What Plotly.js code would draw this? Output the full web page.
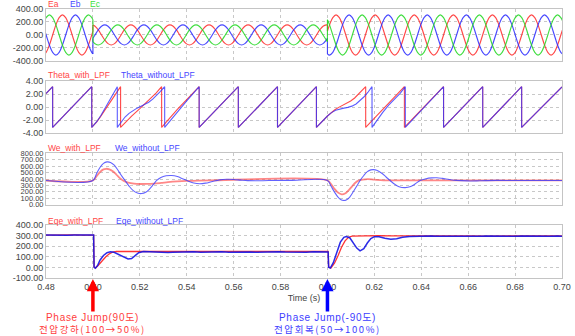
<!DOCTYPE html>
<html>
<head>
<meta charset="utf-8">
<script src="https://cdn.plot.ly/plotly-3.0.1.min.js"></script>
<style>html,body{margin:0;padding:0;background:#fff;}#chart{width:575px;height:336px;}</style>
</head>
<body>
<div id="chart"></div>
<script>
// ---------- Panel 1: three-phase voltages (3 segments: before 0.50, 0.50-0.60, after 0.60) ----------
const vTime1 = [0.47867,0.48006,0.48144,0.48283,0.48422,0.48561,0.48700,0.48839,0.48978,0.49117,0.49256,0.49394,0.49533,0.49672,0.49811,0.49950,0.50000];
const ea1 = [-310,-268,-155,0,155,268,310,268,155,0,-155,-268,-310,-268,-155,0,59];
const eb1 = [155,0,-155,-268,-310,-268,-155,0,155,268,310,268,155,0,-155,-268,-293];
const ec1 = [155,268,310,268,155,0,-155,-268,-310,-268,-155,0,155,268,310,268,234];

const vTime2 = [0.50000,
 0.50089,0.50228,0.50367,0.50506,0.50644,0.50783,0.50922,0.51061,0.51200,0.51339,0.51478,0.51617,
 0.51756,0.51894,0.52033,0.52172,0.52311,0.52450,0.52589,0.52728,0.52867,0.53006,0.53144,0.53283,
 0.53422,0.53561,0.53700,0.53839,0.53978,0.54117,0.54256,0.54394,0.54533,0.54672,0.54811,0.54950,
 0.55089,0.55228,0.55367,0.55506,0.55644,0.55783,0.55922,0.56061,0.56200,0.56339,0.56478,0.56617,
 0.56756,0.56894,0.57033,0.57172,0.57311,0.57450,0.57589,0.57728,0.57867,0.58006,0.58144,0.58283,
 0.58422,0.58561,0.58700,0.58839,0.58978,0.59117,0.59256,0.59394,0.59533,0.59672,0.59811,0.59950,
 0.60000];
const ea2 = [152,
 134,78,0,-78,-134,-155,-134,-78,0,78,134,155,
 134,78,0,-78,-134,-155,-134,-78,0,78,134,155,
 134,78,0,-78,-134,-155,-134,-78,0,78,134,155,
 134,78,0,-78,-134,-155,-134,-78,0,78,134,155,
 134,78,0,-78,-134,-155,-134,-78,0,78,134,155,
 134,78,0,-78,-134,-155,-134,-78,0,78,134,155,
 152];
const eb2 = [-50,
 0,78,134,155,134,78,0,-78,-134,-155,-134,-78,
 0,78,134,155,134,78,0,-78,-134,-155,-134,-78,
 0,78,134,155,134,78,0,-78,-134,-155,-134,-78,
 0,78,134,155,134,78,0,-78,-134,-155,-134,-78,
 0,78,134,155,134,78,0,-78,-134,-155,-134,-78,
 0,78,134,155,134,78,0,-78,-134,-155,-134,-78,
 -51];
const ec2 = [-102,
 -134,-155,-134,-78,0,78,134,155,134,78,0,-78,
 -134,-155,-134,-78,0,78,134,155,134,78,0,-78,
 -134,-155,-134,-78,0,78,134,155,134,78,0,-78,
 -134,-155,-134,-78,0,78,134,155,134,78,0,-78,
 -134,-155,-134,-78,0,78,134,155,134,78,0,-78,
 -134,-155,-134,-78,0,78,134,155,134,78,0,-78,
 -101];

const vTime3 = [0.60000,
 0.60089,0.60228,0.60367,0.60506,0.60644,0.60783,0.60922,0.61061,0.61200,0.61339,0.61478,0.61617,
 0.61756,0.61894,0.62033,0.62172,0.62311,0.62450,0.62589,0.62728,0.62867,0.63006,0.63144,0.63283,
 0.63422,0.63561,0.63700,0.63839,0.63978,0.64117,0.64256,0.64394,0.64533,0.64672,0.64811,0.64950,
 0.65089,0.65228,0.65367,0.65506,0.65644,0.65783,0.65922,0.66061,0.66200,0.66339,0.66478,0.66617,
 0.66756,0.66894,0.67033,0.67172,0.67311,0.67450,0.67589,0.67728,0.67867,0.68006,0.68144,0.68283,
 0.68422,0.68561,0.68700,0.68839,0.68978,0.69117,0.69256,0.69394,0.69533,0.69672,0.69811,0.69950,
 0.70089];
const ea3 = [58,
 155,268,310,268,155,0,-155,-268,-310,-268,-155,0,
 155,268,310,268,155,0,-155,-268,-310,-268,-155,0,
 155,268,310,268,155,0,-155,-268,-310,-268,-155,0,
 155,268,310,268,155,0,-155,-268,-310,-268,-155,0,
 155,268,310,268,155,0,-155,-268,-310,-268,-155,0,
 155,268,310,268,155,0,-155,-268,-310,-268,-155,0,
 155];
const eb3 = [-293,
 -310,-268,-155,0,155,268,310,268,155,0,-155,-268,
 -310,-268,-155,0,155,268,310,268,155,0,-155,-268,
 -310,-268,-155,0,155,268,310,268,155,0,-155,-268,
 -310,-268,-155,0,155,268,310,268,155,0,-155,-268,
 -310,-268,-155,0,155,268,310,268,155,0,-155,-268,
 -310,-268,-155,0,155,268,310,268,155,0,-155,-268,
 -310];
const ec3 = [235,
 155,0,-155,-268,-310,-268,-155,0,155,268,310,268,
 155,0,-155,-268,-310,-268,-155,0,155,268,310,268,
 155,0,-155,-268,-310,-268,-155,0,155,268,310,268,
 155,0,-155,-268,-310,-268,-155,0,155,268,310,268,
 155,0,-155,-268,-310,-268,-155,0,155,268,310,268,
 155,0,-155,-268,-310,-268,-155,0,155,268,310,268,
 155];

// ---------- Panel 2: PLL angle ----------
const thetaTimeNoLpf = [0.4800,0.48283,0.48283,0.4995,0.4995,0.5000,0.5017,0.5034,0.5051,0.50685,0.5086,0.5103,0.5104,0.5104,0.5120,0.5137,0.5154,0.5171,0.5188,0.5205,0.5221,0.5238,0.5255,0.5272,0.5288,0.5304,0.5306,0.5306,0.5320,0.5336,0.5368,0.5400,0.5453,0.5453,0.5620,0.5620,0.5787,0.5787,0.5953,0.5953,0.6000,0.6017,0.6035,0.6052,0.6070,0.6087,0.6104,0.6122,0.6139,0.6155,0.6172,0.6190,0.6190,0.6210,0.6235,0.6260,0.6285,0.6310,0.6332,0.6332,0.6495,0.6495,0.6662,0.6662,0.6828,0.6828,0.7000];
const thetaNoLpf = [2.07,3.14,-3.14,3.14,-3.14,-2.95,-2.22,-1.30,-0.26,0.89,2.05,3.09,3.14,-3.14,-2.28,-1.54,-0.97,-0.52,-0.17,0.14,0.41,0.75,1.21,1.78,2.40,3.07,3.14,-3.14,-2.51,-1.78,-0.35,0.94,3.14,-3.14,3.14,-3.14,3.14,-3.14,3.14,-3.14,-1.38,-0.86,-0.50,-0.30,-0.17,-0.05,0.14,0.47,0.97,1.55,2.25,3.14,-3.14,-2.10,-0.86,0.26,1.20,2.10,3.14,-3.14,3.14,-3.14,3.14,-3.14,3.14,-3.14,3.10];
const thetaTimeLpf = [0.4800,0.48283,0.48283,0.4995,0.4995,0.5000,0.50163,0.50325,0.50488,0.5065,0.50813,0.50975,0.51138,0.5118,0.5118,0.5130,0.5165,0.5200,0.5235,0.5270,0.5293,0.5293,0.5320,0.5360,0.5453,0.5453,0.5620,0.5620,0.5787,0.5787,0.5953,0.5953,0.6000,0.6017,0.6033,0.6050,0.6066,0.6083,0.6099,0.6116,0.6132,0.6163,0.6163,0.6328,0.6328,0.6495,0.6495,0.6662,0.6662,0.6828,0.6828,0.7000];
const thetaLpf = [2.07,3.14,-3.14,3.14,-3.14,-2.95,-2.28,-1.48,-0.60,0.34,1.27,2.16,2.95,3.14,-3.14,-2.65,-1.39,-0.23,0.94,2.20,3.14,-3.14,-2.01,-0.37,3.14,-3.14,3.14,-3.14,3.14,-3.14,3.14,-3.14,-1.38,-0.81,-0.38,-0.01,0.28,0.60,0.94,1.40,1.95,3.14,-3.14,3.14,-3.14,3.14,-3.14,3.14,-3.14,3.14,-3.14,3.10];

// ---------- Panel 3: angular frequency ----------
const weTimeNoLpf = [0.4800,0.5000,0.5015,0.5030,0.5045,0.5060,0.5075,0.5090,0.5105,0.5120,0.5137,0.5155,0.5172,0.5190,0.5208,0.5225,0.5242,0.5258,0.5272,0.5290,0.5312,0.5336,0.5360,0.5385,0.5405,0.5430,0.5455,0.5480,0.5510,0.5540,0.5570,0.5600,0.5630,0.5660,0.5700,0.5750,0.5850,0.6000,0.6015,0.6030,0.6045,0.6058,0.6068,0.6080,0.6095,0.6110,0.6125,0.6139,0.6155,0.6170,0.6185,0.6196,0.6210,0.6230,0.6250,0.6267,0.6285,0.6305,0.6331,0.6355,0.6375,0.6395,0.6420,0.6445,0.6466,0.6490,0.6520,0.6550,0.6600,0.6650,0.6720,0.6800,0.7000];
const weNoLpf = [377,377,480,580,645,668,660,620,548,462,377,285,218,180,172,192,245,315,377,425,450,455,438,400,370,338,325,335,362,386,396,393,383,374,372,376,378,377,290,195,118,75,65,72,118,200,290,377,455,515,543,547,538,495,432,377,322,280,265,282,325,377,405,418,420,410,392,378,370,372,378,376,377];
const weTimeLpf = [0.4800,0.5000,0.5015,0.5030,0.5045,0.5056,0.5070,0.5085,0.5100,0.5115,0.5130,0.5150,0.5175,0.5200,0.5230,0.5260,0.5290,0.5320,0.5360,0.5400,0.5450,0.5500,0.6000,0.6015,0.6030,0.6045,0.6061,0.6075,0.6090,0.6105,0.6120,0.6132,0.6150,0.6172,0.6200,0.6240,0.6300,0.7000];
const weLpf = [377,377,440,508,550,560,552,520,470,415,372,345,328,322,323,328,338,350,362,370,376,378,377,322,245,188,160,172,222,285,345,375,392,398,390,380,377,377];

// ---------- Panel 4: d-q voltage ----------
const eqeTimeNoLpf = [0.4800,0.4830,0.4860,0.4890,0.4920,0.4950,0.4980,0.5003,0.5005,0.5010,0.5020,0.5030,0.5045,0.5060,0.5075,0.5090,0.5110,0.5130,0.5150,0.5165,0.5180,0.5195,0.5215,0.5240,0.5260,0.5280,0.5300,0.5320,0.5340,0.5370,0.5400,0.5430,0.5460,0.5490,0.5520,0.5550,0.5580,0.5610,0.5640,0.5670,0.5700,0.5730,0.5760,0.5790,0.5820,0.5850,0.5880,0.5910,0.5940,0.5970,0.6003,0.6005,0.6012,0.6025,0.6040,0.6055,0.6070,0.6080,0.6095,0.6110,0.6125,0.6139,0.6155,0.6170,0.6185,0.6200,0.6220,0.6245,0.6270,0.6295,0.6320,0.6350,0.6380,0.6410,0.6440,0.6470,0.6500,0.6530,0.6560,0.6590,0.6620,0.6650,0.6680,0.6710,0.6740,0.6770,0.6800,0.6830,0.6860,0.6890,0.6920,0.6950,0.6980,0.7000];
const eqeNoLpf = [306,303,307,304,306,302,305,305,2,-8,18,68,112,138,147,142,120,96,80,84,112,138,150,147,143,140,138,141,144,147,145,148,144,146,143,147,144,146,148,145,143,146,144,147,145,143,146,144,147,145,145,2,-6,45,148,238,284,292,280,232,182,156,176,230,273,290,289,276,266,270,284,292,295,293,296,294,297,294,295,293,296,294,297,295,293,296,294,297,295,293,296,294,297,295];
const eqeTimeLpf = [0.4800,0.4840,0.4880,0.4920,0.4960,0.5003,0.5005,0.5012,0.5025,0.5040,0.5055,0.5070,0.5085,0.5100,0.5120,0.5160,0.5200,0.5250,0.5300,0.5350,0.5400,0.5450,0.5500,0.5550,0.5600,0.5650,0.5700,0.5750,0.5800,0.5850,0.5900,0.5950,0.6003,0.6005,0.6015,0.6030,0.6045,0.6060,0.6075,0.6090,0.6105,0.6130,0.6170,0.6220,0.6270,0.6320,0.6370,0.6420,0.6470,0.6520,0.6570,0.6620,0.6670,0.6720,0.6770,0.6820,0.6870,0.6920,0.6970,0.7000];
const eqeLpf = [305,307,304,306,305,305,3,-5,25,65,100,128,145,151,153,150,152,149,151,150,152,149,151,150,152,149,151,150,152,149,151,150,150,3,-5,40,110,190,250,285,296,298,297,299,297,298,296,298,297,299,297,298,296,298,297,299,297,298,296,297];

// ---------- Tick labels / texts ----------
const xTickVals = [0.48,0.50,0.52,0.54,0.56,0.58,0.60,0.62,0.64,0.66,0.68,0.70];
const xTickText = ['0.48','0.50','0.52','0.54','0.56','0.58','0.60','0.62','0.64','0.66','0.68','0.70'];
const eTickVals = [-400,-200,0,200,400];
const eTickText = ['-400.00','-200.00','0.00','200.00','400.00'];
const thTickVals = [-4,-2,0,2,4];
const thTickText = ['-4.00','-2.00','0.00','2.00','4.00'];
const weTickVals = [0,100,200,300,400,500,600,700,800];
const weTickText = ['0.00','100.00','200.00','300.00','400.00','500.00','600.00','700.00','800.00'];
const eqTickVals = [-100,0,100,200,300,400];
const eqTickText = ['-100.00','0.00','100.00','200.00','300.00','400.00'];
const jumpTimes = [0.50, 0.60];
const jumpLabels = ['Phase Jump(90도)', 'Phase Jump(-90도)'];
const jumpNotes = ['전압강하(100→50%)', '전압회복(50→100%)'];

// ---------- Styles ----------
const RED = 'rgba(255,40,40,0.85)', BLUE = 'rgba(40,40,255,0.85)', GREEN = 'rgba(30,215,30,0.85)';
const traces = [];
function wave(t, v, color) {
  traces.push({x:t, y:v, type:'scatter', mode:'lines', xaxis:'x', yaxis:'y', line:{color:color, width:1.15, shape:'spline', smoothing:1}, hoverinfo:'skip'});
}
function jumps(a1, a2, a3, color) {
  traces.push({x:[vTime1[vTime1.length-1], vTime2[0], null, vTime2[vTime2.length-1], vTime3[0]],
               y:[a1[a1.length-1], a2[0], null, a2[a2.length-1], a3[0]],
               type:'scatter', mode:'lines', xaxis:'x', yaxis:'y', line:{color:color, width:1.15}, hoverinfo:'skip'});
}
[[ea1,ea2,ea3,RED],[eb1,eb2,eb3,BLUE],[ec1,ec2,ec3,GREEN]].forEach(function(p){
  wave(vTime1, p[0], p[3]); wave(vTime2, p[1], p[3]); wave(vTime3, p[2], p[3]); jumps(p[0], p[1], p[2], p[3]);
});
traces.push({x:thetaTimeLpf, y:thetaLpf, type:'scatter', mode:'lines', xaxis:'x2', yaxis:'y2', line:{color:'rgba(255,40,40,0.85)', width:1.1}});
traces.push({x:thetaTimeNoLpf, y:thetaNoLpf, type:'scatter', mode:'lines', xaxis:'x2', yaxis:'y2', line:{color:'rgba(50,50,255,0.8)', width:1.1}});
traces.push({x:weTimeLpf, y:weLpf, type:'scatter', mode:'lines', xaxis:'x3', yaxis:'y3', line:{color:'rgba(255,70,70,0.65)', width:1.8, shape:'spline'}});
traces.push({x:weTimeNoLpf, y:weNoLpf, type:'scatter', mode:'lines', xaxis:'x3', yaxis:'y3', line:{color:'rgba(60,60,255,0.8)', width:1.1, shape:'spline'}});
traces.push({x:eqeTimeLpf, y:eqeLpf, type:'scatter', mode:'lines', xaxis:'x4', yaxis:'y4', line:{color:'rgba(255,30,30,0.9)', width:1.3}});
traces.push({x:eqeTimeNoLpf, y:eqeNoLpf, type:'scatter', mode:'lines', xaxis:'x4', yaxis:'y4', line:{color:'rgba(20,20,230,0.9)', width:1.5}});

const GRID = '#c8c8c8', LINE = '#c4c4c4', TXT = '#444';
function axX(anchor, labels) {
  const a = {anchor:anchor, range:[0.48,0.70], tickvals:xTickVals, ticktext:xTickText, showticklabels:labels,
    showgrid:true, gridcolor:GRID, griddash:'dot', gridwidth:1, zeroline:false, ticks:'',
    showline:true, linecolor:LINE, linewidth:1, mirror:true, tickfont:{size:9, color:TXT}, fixedrange:true};
  if (labels) a.title = {text:'Time (s)', font:{size:9, color:TXT}, standoff:3};
  return a;
}
function axY(anchor, domain, range, vals, text, fsize) {
  return {anchor:anchor, domain:domain, range:range, tickvals:vals, ticktext:text,
    showgrid:true, gridcolor:GRID, griddash:'dot', gridwidth:1, zeroline:false, ticks:'',
    showline:true, linecolor:LINE, linewidth:1, mirror:true, tickfont:{size:fsize, color:TXT}, fixedrange:true};
}
function legendText(txt, x, y, color) {
  return {text:txt, x:x, y:y, xref:'paper', yref:'paper', xanchor:'left', yanchor:'middle', showarrow:false,
          font:{size:8.5, color:color}};
}
const LR = 'rgb(255,70,70)', LB = 'rgb(70,70,255)', LG = 'rgb(60,225,60)';
const KFONT = 'Noto Sans CJK KR, Liberation Sans, sans-serif';
const LFONT = 'Liberation Sans, Noto Sans CJK KR, sans-serif';
const annotations = [
  legendText('Ea', 0.0, 1.0186, LR), legendText('Eb', 0.042, 1.0186, LB), legendText('Ec', 0.081, 1.0186, LG),
  legendText('Theta_with_LPF', 0.0, 0.7546, LR), legendText('Theta_without_LPF', 0.142, 0.7546, LB),
  legendText('We_with_LPF', 0.0, 0.4844, LR), legendText('We_without_LPF', 0.129, 0.4844, LB),
  legendText('Eqe_with_LPF', 0.0, 0.213, LR), legendText('Eqe_without_LPF', 0.131, 0.213, LB)
];
const arrowColors = ['rgb(255,0,0)', 'rgb(0,0,255)'];
const textColors = ['rgb(255,60,60)', 'rgb(60,60,255)'];
jumpTimes.forEach(function(t, i){
  annotations.push({x:t, xref:'x4', y:-0.004, yref:'paper', ax:0, ay:34, text:'', showarrow:true,
    arrowhead:2, arrowsize:0.7, arrowwidth:3.5, arrowcolor:arrowColors[i]});
  annotations.push({x:t, xref:'x4', y:-0.147, yref:'paper', xanchor:'center', yanchor:'middle', showarrow:false,
    text:'<span style="letter-spacing:0.7px">' + jumpLabels[i] + '</span>', font:{size:10, color:textColors[i], family:LFONT}});
  annotations.push({x:t, xref:'x4', y:-0.19, yref:'paper', xanchor:'center', yanchor:'middle', showarrow:false,
    text:'<span style="letter-spacing:1.6px">' + jumpNotes[i] + '</span>', font:{size:9.5, color:textColors[i], family:KFONT}});
});

const layout = {
  width:575, height:336, autosize:false, showlegend:false,
  margin:{l:46, r:13, t:9, b:58, pad:0},
  paper_bgcolor:'#ffffff', plot_bgcolor:'#ffffff',
  font:{family:'Liberation Sans, Arial, sans-serif', size:9, color:TXT},
  xaxis:axX('y', false), xaxis2:axX('y2', false), xaxis3:axX('y3', false), xaxis4:axX('y4', true),
  yaxis:axY('x', [0.807, 1.0], [-400, 400], eTickVals, eTickText, 9),
  yaxis2:axY('x2', [0.539, 0.732], [-4, 4], thTickVals, thTickText, 9),
  yaxis3:axY('x3', [0.273, 0.463], [0, 800], weTickVals, weTickText, 7.5),
  yaxis4:axY('x4', [0.0, 0.197], [-100, 400], eqTickVals, eqTickText, 9),
  annotations:annotations
};
Plotly.newPlot('chart', traces, layout, {staticPlot:true, displayModeBar:false});
</script>
</body>
</html>
